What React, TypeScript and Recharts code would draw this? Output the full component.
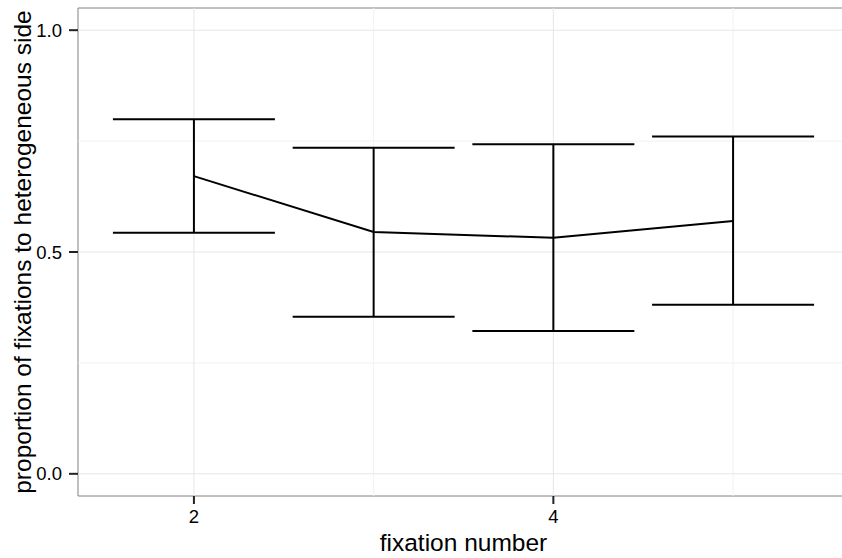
import React from 'react';
import {
  ComposedChart,
  Line,
  XAxis,
  YAxis,
  ErrorBar,
  ReferenceLine,
  ReferenceArea,
} from 'recharts';

const fixationNumbers = [2, 3, 4, 5];
const meanProportion = [0.671, 0.545, 0.532, 0.570];
const upperBound = [0.7995, 0.735, 0.743, 0.7605];
const lowerBound = [0.5435, 0.354, 0.322, 0.381];

const xTicks = [2, 4];
const yTicks = [0, 0.5, 1.0];
const xMinor = [3, 5];
const yMinor = [0.25, 0.75];

const X_DOMAIN: [number, number] = [1.355, 5.645];
const Y_DOMAIN: [number, number] = [-0.05, 1.05];

const data = fixationNumbers.map((x, i) => ({
  x,
  mean: meanProportion[i],
  err: [meanProportion[i] - lowerBound[i], upperBound[i] - meanProportion[i]],
}));

const FONT = '"Liberation Sans", Arial, Helvetica, sans-serif';
const TICK_FS = 18.5;

const XTick = (props: any) => {
  const { x, y, payload } = props;
  return (
    <text x={x} y={y} dy="0.72em" textAnchor="middle" fontSize={TICK_FS} fontFamily={FONT} fill="#000">
      {String(payload.value)}
    </text>
  );
};

const YTick = (props: any) => {
  const { x, y, payload } = props;
  return (
    <text x={x} y={y} dy="0.36em" textAnchor="end" fontSize={TICK_FS} fontFamily={FONT} fill="#000">
      {Number(payload.value).toFixed(1)}
    </text>
  );
};

export default function App() {
  return (
    <div
      style={{
        position: 'absolute',
        left: 0,
        top: 0,
        width: 842,
        height: 558,
        overflow: 'hidden',
        background: '#fff',
      }}
    >
      <ComposedChart
        width={860}
        height={558}
        data={data}
        margin={{ top: 8, right: 11, bottom: 0, left: 0 }}
        style={{ fontFamily: FONT }}
      >
        {xMinor.map((v) => (
          <ReferenceLine key={'xm' + v} x={v} stroke="#f2f2f2" strokeWidth={1} ifOverflow="visible" />
        ))}
        {yMinor.map((v) => (
          <ReferenceLine key={'ym' + v} y={v} stroke="#f2f2f2" strokeWidth={1} ifOverflow="visible" />
        ))}
        {xTicks.map((v) => (
          <ReferenceLine key={'xM' + v} x={v} stroke="#e6e6e6" strokeWidth={1} ifOverflow="visible" />
        ))}
        {yTicks.map((v) => (
          <ReferenceLine key={'yM' + v} y={v} stroke="#e6e6e6" strokeWidth={1} ifOverflow="visible" />
        ))}
        <ReferenceArea
          x1={X_DOMAIN[0]}
          x2={X_DOMAIN[1]}
          y1={Y_DOMAIN[0]}
          y2={Y_DOMAIN[1]}
          fill="none"
          fillOpacity={0}
          stroke="#808080"
          strokeWidth={1}
          ifOverflow="visible"
        />
        <XAxis
          dataKey="x"
          type="number"
          domain={X_DOMAIN}
          ticks={xTicks}
          allowDataOverflow
          height={62}
          axisLine={false}
          tickLine={{ stroke: '#222222', strokeWidth: 2 }}
          tickSize={8}
          tickMargin={6}
          tick={<XTick />}
        />
        <YAxis
          type="number"
          domain={Y_DOMAIN}
          ticks={yTicks}
          allowDataOverflow
          width={78}
          axisLine={false}
          tickLine={{ stroke: '#222222', strokeWidth: 2 }}
          tickSize={9}
          tickMargin={7}
          tick={<YTick />}
        />
        <Line
          dataKey="mean"
          stroke="#000"
          strokeWidth={2}
          dot={false}
          activeDot={false}
          isAnimationActive={false}
        >
          <ErrorBar
            dataKey="err"
            direction="y"
            width={81}
            stroke="#000"
            strokeWidth={2}
            isAnimationActive={false}
          />
        </Line>
        <text
          x={463.5}
          y={551}
          textAnchor="middle"
          fontSize={24.5}
          fontFamily={FONT}
          fill="#000"
        >
          fixation number
        </text>
        <text
          x={31}
          y={252}
          textAnchor="middle"
          fontSize={24.5}
          fontFamily={FONT}
          fill="#000"
          transform="rotate(-90 31 252)"
        >
          proportion of fixations to heterogeneous side
        </text>
      </ComposedChart>
    </div>
  );
}
